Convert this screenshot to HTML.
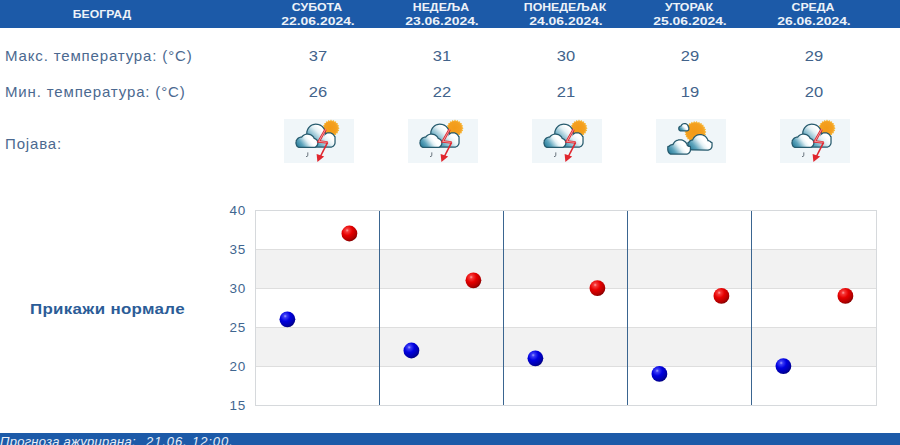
<!DOCTYPE html>
<html><head><meta charset="utf-8">
<style>
html,body{margin:0;padding:0;background:#fff;width:900px;height:445px;overflow:hidden;position:relative;font-family:"Liberation Sans",sans-serif;}
div{position:absolute;white-space:nowrap;}
.hdr{left:0;top:0;width:900px;height:28px;background:#1c5aa8;}
.ht{color:#edf2f8;font-weight:bold;font-size:11.5px;text-align:center;width:124px;line-height:13px;transform-origin:50% 0;}
.lbl{left:5px;color:#4b6990;font-size:15px;line-height:16px;letter-spacing:0.85px;}
.num{width:124px;text-align:center;color:#42638b;font-size:15px;line-height:16px;transform:scaleX(1.1);transform-origin:50% 0;}
.ico{width:70px;height:44px;}
.yl{left:220px;width:26px;text-align:right;color:#3f6690;font-size:13.5px;line-height:14px;letter-spacing:0.8px;}
.ftr{left:0;top:433px;width:900px;height:12px;background:#1c5aa8;}
</style></head><body>
<div class="hdr"></div>
<div class="ht" style="left:40px;top:8px;transform:scaleX(1.06);">БЕОГРАД</div>

<div class="ht" style="left:255px;top:1px;transform:scaleX(1.07);">СУБОТА</div>
<div class="ht" style="left:255.5px;top:15px;transform:scaleX(1.21);">22.06.2024.</div>
<div class="ht" style="left:379px;top:1px;transform:scaleX(1.07);">НЕДЕЉА</div>
<div class="ht" style="left:379.5px;top:15px;transform:scaleX(1.21);">23.06.2024.</div>
<div class="ht" style="left:503px;top:1px;transform:scaleX(1.07);">ПОНЕДЕЉАК</div>
<div class="ht" style="left:503.5px;top:15px;transform:scaleX(1.21);">24.06.2024.</div>
<div class="ht" style="left:627px;top:1px;transform:scaleX(1.07);">УТОРАК</div>
<div class="ht" style="left:627.5px;top:15px;transform:scaleX(1.21);">25.06.2024.</div>
<div class="ht" style="left:751px;top:1px;transform:scaleX(1.07);">СРЕДА</div>
<div class="ht" style="left:751.5px;top:15px;transform:scaleX(1.21);">26.06.2024.</div>
<div class="lbl" style="top:48px;">Макс. температура: (°C)</div>
<div class="lbl" style="top:84px;">Мин. температура: (°C)</div>
<div class="lbl" style="top:136px;">Појава:</div>

<div class="num" style="left:256px;top:48px;">37</div>
<div class="num" style="left:256px;top:84px;">26</div>
<div class="num" style="left:380px;top:48px;">31</div>
<div class="num" style="left:380px;top:84px;">22</div>
<div class="num" style="left:504px;top:48px;">30</div>
<div class="num" style="left:504px;top:84px;">21</div>
<div class="num" style="left:628px;top:48px;">29</div>
<div class="num" style="left:628px;top:84px;">19</div>
<div class="num" style="left:752px;top:48px;">29</div>
<div class="num" style="left:752px;top:84px;">20</div>
<svg class="ico" style="position:absolute;left:284px;top:119px;" width="70" height="44" viewBox="0 0 70 44"><defs>
<linearGradient id="cg" x1="0" y1="1" x2="0.7" y2="0.1">
<stop offset="0" stop-color="#2e86a3"/><stop offset="0.45" stop-color="#9cc9d8"/><stop offset="0.75" stop-color="#ffffff"/><stop offset="1" stop-color="#ffffff"/></linearGradient>
<radialGradient id="sg" cx="0.45" cy="0.5" r="0.6"><stop offset="0" stop-color="#f39a16"/><stop offset="0.7" stop-color="#f4a020"/><stop offset="1" stop-color="#f7b43a"/></radialGradient>
</defs><rect width="70" height="44" fill="#f0f6f9"/><polygon points="55.60,9.20 54.21,10.34 55.18,11.86 53.50,12.51 53.96,14.25 52.16,14.36 52.05,16.16 50.31,15.70 49.66,17.38 48.14,16.41 47.00,17.80 45.86,16.41 44.34,17.38 43.69,15.70 41.95,16.16 41.84,14.36 40.04,14.25 40.50,12.51 38.82,11.86 39.79,10.34 38.40,9.20 39.79,8.06 38.82,6.54 40.50,5.89 40.04,4.15 41.84,4.04 41.95,2.24 43.69,2.70 44.34,1.02 45.86,1.99 47.00,0.60 48.14,1.99 49.66,1.02 50.31,2.70 52.05,2.24 52.16,4.04 53.96,4.15 53.50,5.89 55.18,6.54 54.21,8.06" fill="#f7b638"/><circle cx="47" cy="9.2" r="7.3" fill="url(#sg)"/><linearGradient id="c1g" gradientUnits="userSpaceOnUse" x1="23.41" y1="27.50" x2="43.65" y2="5.80"><stop offset="0" stop-color="#1f7593"/><stop offset="0.3" stop-color="#5fa5bd"/><stop offset="0.6" stop-color="#e4f1f5"/><stop offset="0.75" stop-color="#ffffff"/><stop offset="1" stop-color="#ffffff"/></linearGradient><path d="M40.6,13.8 40.4,12.5 40.1,11.5 39.6,10.3 38.9,9.3 38.1,8.3 37.3,7.6 36.4,7.0 35.3,6.5 34.1,6.1 33.1,5.9 31.8,5.8 30.5,5.9 29.3,6.2 28.3,6.6 27.2,7.2 26.2,8.0 25.5,8.8 25.0,9.4 24.5,10.2 24.1,11.1 23.7,12.1 23.5,12.9 23.4,14.0 23.4,14.8 23.5,15.7 23.7,16.5 24.1,17.9 24.5,18.6 25.0,19.4 26.0,20.6 26.0,23.5 26.1,24.3 26.2,24.8 26.5,25.4 27.0,26.2 27.6,26.7 28.3,27.1 29.0,27.4 30.0,27.5 46.6,27.5 47.4,27.4 47.9,27.2 48.5,26.9 49.1,26.5 49.5,26.0 49.9,25.4 50.2,24.7 50.4,24.1 50.4,18.0 50.1,18.0 49.8,17.3 49.3,16.5 48.6,15.8 48.0,15.3 47.3,14.9 46.6,14.6 45.8,14.5 45.0,14.4 44.2,14.5 43.4,14.6 42.7,14.9 41.9,15.4 41.3,15.9 40.7,16.5 40.2,17.3 39.9,18.0 39.8,18.0 40.2,16.9 40.5,15.9 40.6,14.8 40.6,13.8Z" fill="url(#c1g)" stroke="#265a6d" stroke-width="2.5" stroke-linejoin="round" paint-order="stroke"/><linearGradient id="c2g" gradientUnits="userSpaceOnUse" x1="12.60" y1="27.80" x2="28.04" y2="15.70"><stop offset="0" stop-color="#1f7593"/><stop offset="0.3" stop-color="#5fa5bd"/><stop offset="0.6" stop-color="#e4f1f5"/><stop offset="0.75" stop-color="#ffffff"/><stop offset="1" stop-color="#ffffff"/></linearGradient><path d="M29.8,20.0 29.2,18.8 28.4,17.7 27.4,16.9 26.3,16.3 25.0,15.9 23.8,15.7 22.5,15.8 21.4,16.1 20.3,16.6 19.4,17.2 18.6,18.0 18.0,18.8 16.8,18.8 15.7,19.1 14.6,19.7 13.8,20.5 13.2,21.2 12.9,22.0 12.8,22.0 12.7,22.9 12.6,23.6 12.6,24.2 13.0,25.8 13.3,26.5 13.8,27.0 14.3,27.4 15.1,27.8 30.5,27.8 31.2,27.5 31.7,27.1 32.2,26.6 32.6,26.1 32.9,25.5 33.1,25.0 33.2,24.3 33.2,23.6 33.1,22.9 32.8,22.3 32.8,22.0 32.7,22.0 32.2,21.3 31.5,20.7 30.7,20.3 29.8,20.0Z" fill="url(#c2g)" stroke="#265a6d" stroke-width="2.5" stroke-linejoin="round" paint-order="stroke"/><polyline points="41.6,10.4 34.8,22.4 43.6,23.4" fill="none" stroke="#e0262e" stroke-width="2.5" stroke-linejoin="miter"/><polyline points="41.6,10.4 34.8,22.4 43.6,23.4" fill="none" stroke="#f3b9bd" stroke-width="0.8" stroke-linejoin="miter"/><polyline points="43.6,23.4 36.4,37.5" fill="none" stroke="#e0262e" stroke-width="1.6"/><polygon points="32.6,35 40.2,37.4 33.4,43" fill="#e0262e"/><path d="M23.8,33.4 v2.8 q0,1.6 -1.8,1.4" fill="none" stroke="#5a6670" stroke-width="0.9"/></svg>
<svg class="ico" style="position:absolute;left:408px;top:119px;" width="70" height="44" viewBox="0 0 70 44"><rect width="70" height="44" fill="#f0f6f9"/><polygon points="55.60,9.20 54.21,10.34 55.18,11.86 53.50,12.51 53.96,14.25 52.16,14.36 52.05,16.16 50.31,15.70 49.66,17.38 48.14,16.41 47.00,17.80 45.86,16.41 44.34,17.38 43.69,15.70 41.95,16.16 41.84,14.36 40.04,14.25 40.50,12.51 38.82,11.86 39.79,10.34 38.40,9.20 39.79,8.06 38.82,6.54 40.50,5.89 40.04,4.15 41.84,4.04 41.95,2.24 43.69,2.70 44.34,1.02 45.86,1.99 47.00,0.60 48.14,1.99 49.66,1.02 50.31,2.70 52.05,2.24 52.16,4.04 53.96,4.15 53.50,5.89 55.18,6.54 54.21,8.06" fill="#f7b638"/><circle cx="47" cy="9.2" r="7.3" fill="url(#sg)"/><linearGradient id="c1g" gradientUnits="userSpaceOnUse" x1="23.41" y1="27.50" x2="43.65" y2="5.80"><stop offset="0" stop-color="#1f7593"/><stop offset="0.3" stop-color="#5fa5bd"/><stop offset="0.6" stop-color="#e4f1f5"/><stop offset="0.75" stop-color="#ffffff"/><stop offset="1" stop-color="#ffffff"/></linearGradient><path d="M40.6,13.8 40.4,12.5 40.1,11.5 39.6,10.3 38.9,9.3 38.1,8.3 37.3,7.6 36.4,7.0 35.3,6.5 34.1,6.1 33.1,5.9 31.8,5.8 30.5,5.9 29.3,6.2 28.3,6.6 27.2,7.2 26.2,8.0 25.5,8.8 25.0,9.4 24.5,10.2 24.1,11.1 23.7,12.1 23.5,12.9 23.4,14.0 23.4,14.8 23.5,15.7 23.7,16.5 24.1,17.9 24.5,18.6 25.0,19.4 26.0,20.6 26.0,23.5 26.1,24.3 26.2,24.8 26.5,25.4 27.0,26.2 27.6,26.7 28.3,27.1 29.0,27.4 30.0,27.5 46.6,27.5 47.4,27.4 47.9,27.2 48.5,26.9 49.1,26.5 49.5,26.0 49.9,25.4 50.2,24.7 50.4,24.1 50.4,18.0 50.1,18.0 49.8,17.3 49.3,16.5 48.6,15.8 48.0,15.3 47.3,14.9 46.6,14.6 45.8,14.5 45.0,14.4 44.2,14.5 43.4,14.6 42.7,14.9 41.9,15.4 41.3,15.9 40.7,16.5 40.2,17.3 39.9,18.0 39.8,18.0 40.2,16.9 40.5,15.9 40.6,14.8 40.6,13.8Z" fill="url(#c1g)" stroke="#265a6d" stroke-width="2.5" stroke-linejoin="round" paint-order="stroke"/><linearGradient id="c2g" gradientUnits="userSpaceOnUse" x1="12.60" y1="27.80" x2="28.04" y2="15.70"><stop offset="0" stop-color="#1f7593"/><stop offset="0.3" stop-color="#5fa5bd"/><stop offset="0.6" stop-color="#e4f1f5"/><stop offset="0.75" stop-color="#ffffff"/><stop offset="1" stop-color="#ffffff"/></linearGradient><path d="M29.8,20.0 29.2,18.8 28.4,17.7 27.4,16.9 26.3,16.3 25.0,15.9 23.8,15.7 22.5,15.8 21.4,16.1 20.3,16.6 19.4,17.2 18.6,18.0 18.0,18.8 16.8,18.8 15.7,19.1 14.6,19.7 13.8,20.5 13.2,21.2 12.9,22.0 12.8,22.0 12.7,22.9 12.6,23.6 12.6,24.2 13.0,25.8 13.3,26.5 13.8,27.0 14.3,27.4 15.1,27.8 30.5,27.8 31.2,27.5 31.7,27.1 32.2,26.6 32.6,26.1 32.9,25.5 33.1,25.0 33.2,24.3 33.2,23.6 33.1,22.9 32.8,22.3 32.8,22.0 32.7,22.0 32.2,21.3 31.5,20.7 30.7,20.3 29.8,20.0Z" fill="url(#c2g)" stroke="#265a6d" stroke-width="2.5" stroke-linejoin="round" paint-order="stroke"/><polyline points="41.6,10.4 34.8,22.4 43.6,23.4" fill="none" stroke="#e0262e" stroke-width="2.5" stroke-linejoin="miter"/><polyline points="41.6,10.4 34.8,22.4 43.6,23.4" fill="none" stroke="#f3b9bd" stroke-width="0.8" stroke-linejoin="miter"/><polyline points="43.6,23.4 36.4,37.5" fill="none" stroke="#e0262e" stroke-width="1.6"/><polygon points="32.6,35 40.2,37.4 33.4,43" fill="#e0262e"/><path d="M23.8,33.4 v2.8 q0,1.6 -1.8,1.4" fill="none" stroke="#5a6670" stroke-width="0.9"/></svg>
<svg class="ico" style="position:absolute;left:532px;top:119px;" width="70" height="44" viewBox="0 0 70 44"><rect width="70" height="44" fill="#f0f6f9"/><polygon points="55.60,9.20 54.21,10.34 55.18,11.86 53.50,12.51 53.96,14.25 52.16,14.36 52.05,16.16 50.31,15.70 49.66,17.38 48.14,16.41 47.00,17.80 45.86,16.41 44.34,17.38 43.69,15.70 41.95,16.16 41.84,14.36 40.04,14.25 40.50,12.51 38.82,11.86 39.79,10.34 38.40,9.20 39.79,8.06 38.82,6.54 40.50,5.89 40.04,4.15 41.84,4.04 41.95,2.24 43.69,2.70 44.34,1.02 45.86,1.99 47.00,0.60 48.14,1.99 49.66,1.02 50.31,2.70 52.05,2.24 52.16,4.04 53.96,4.15 53.50,5.89 55.18,6.54 54.21,8.06" fill="#f7b638"/><circle cx="47" cy="9.2" r="7.3" fill="url(#sg)"/><linearGradient id="c1g" gradientUnits="userSpaceOnUse" x1="23.41" y1="27.50" x2="43.65" y2="5.80"><stop offset="0" stop-color="#1f7593"/><stop offset="0.3" stop-color="#5fa5bd"/><stop offset="0.6" stop-color="#e4f1f5"/><stop offset="0.75" stop-color="#ffffff"/><stop offset="1" stop-color="#ffffff"/></linearGradient><path d="M40.6,13.8 40.4,12.5 40.1,11.5 39.6,10.3 38.9,9.3 38.1,8.3 37.3,7.6 36.4,7.0 35.3,6.5 34.1,6.1 33.1,5.9 31.8,5.8 30.5,5.9 29.3,6.2 28.3,6.6 27.2,7.2 26.2,8.0 25.5,8.8 25.0,9.4 24.5,10.2 24.1,11.1 23.7,12.1 23.5,12.9 23.4,14.0 23.4,14.8 23.5,15.7 23.7,16.5 24.1,17.9 24.5,18.6 25.0,19.4 26.0,20.6 26.0,23.5 26.1,24.3 26.2,24.8 26.5,25.4 27.0,26.2 27.6,26.7 28.3,27.1 29.0,27.4 30.0,27.5 46.6,27.5 47.4,27.4 47.9,27.2 48.5,26.9 49.1,26.5 49.5,26.0 49.9,25.4 50.2,24.7 50.4,24.1 50.4,18.0 50.1,18.0 49.8,17.3 49.3,16.5 48.6,15.8 48.0,15.3 47.3,14.9 46.6,14.6 45.8,14.5 45.0,14.4 44.2,14.5 43.4,14.6 42.7,14.9 41.9,15.4 41.3,15.9 40.7,16.5 40.2,17.3 39.9,18.0 39.8,18.0 40.2,16.9 40.5,15.9 40.6,14.8 40.6,13.8Z" fill="url(#c1g)" stroke="#265a6d" stroke-width="2.5" stroke-linejoin="round" paint-order="stroke"/><linearGradient id="c2g" gradientUnits="userSpaceOnUse" x1="12.60" y1="27.80" x2="28.04" y2="15.70"><stop offset="0" stop-color="#1f7593"/><stop offset="0.3" stop-color="#5fa5bd"/><stop offset="0.6" stop-color="#e4f1f5"/><stop offset="0.75" stop-color="#ffffff"/><stop offset="1" stop-color="#ffffff"/></linearGradient><path d="M29.8,20.0 29.2,18.8 28.4,17.7 27.4,16.9 26.3,16.3 25.0,15.9 23.8,15.7 22.5,15.8 21.4,16.1 20.3,16.6 19.4,17.2 18.6,18.0 18.0,18.8 16.8,18.8 15.7,19.1 14.6,19.7 13.8,20.5 13.2,21.2 12.9,22.0 12.8,22.0 12.7,22.9 12.6,23.6 12.6,24.2 13.0,25.8 13.3,26.5 13.8,27.0 14.3,27.4 15.1,27.8 30.5,27.8 31.2,27.5 31.7,27.1 32.2,26.6 32.6,26.1 32.9,25.5 33.1,25.0 33.2,24.3 33.2,23.6 33.1,22.9 32.8,22.3 32.8,22.0 32.7,22.0 32.2,21.3 31.5,20.7 30.7,20.3 29.8,20.0Z" fill="url(#c2g)" stroke="#265a6d" stroke-width="2.5" stroke-linejoin="round" paint-order="stroke"/><polyline points="41.6,10.4 34.8,22.4 43.6,23.4" fill="none" stroke="#e0262e" stroke-width="2.5" stroke-linejoin="miter"/><polyline points="41.6,10.4 34.8,22.4 43.6,23.4" fill="none" stroke="#f3b9bd" stroke-width="0.8" stroke-linejoin="miter"/><polyline points="43.6,23.4 36.4,37.5" fill="none" stroke="#e0262e" stroke-width="1.6"/><polygon points="32.6,35 40.2,37.4 33.4,43" fill="#e0262e"/><path d="M23.8,33.4 v2.8 q0,1.6 -1.8,1.4" fill="none" stroke="#5a6670" stroke-width="0.9"/></svg>
<svg class="ico" style="position:absolute;left:656px;top:119px;" width="70" height="44" viewBox="0 0 70 44"><rect width="70" height="44" fill="#f0f6f9"/><polygon points="50.40,13.00 48.93,14.16 50.08,15.63 48.38,16.40 49.14,18.11 47.30,18.45 47.63,20.29 45.77,20.19 45.65,22.05 43.86,21.50 43.30,23.29 41.70,22.32 40.73,23.92 39.40,22.60 38.07,23.92 37.10,22.32 35.50,23.29 34.94,21.50 33.15,22.05 33.03,20.19 31.17,20.29 31.50,18.45 29.66,18.11 30.42,16.40 28.72,15.63 29.87,14.16 28.40,13.00 29.87,11.84 28.72,10.37 30.42,9.60 29.66,7.89 31.50,7.55 31.17,5.71 33.03,5.81 33.15,3.95 34.94,4.50 35.50,2.71 37.10,3.68 38.07,2.08 39.40,3.40 40.73,2.08 41.70,3.68 43.30,2.71 43.86,4.50 45.65,3.95 45.77,5.81 47.63,5.71 47.30,7.55 49.14,7.89 48.38,9.60 50.08,10.37 48.93,11.84" fill="#f7b638"/><circle cx="39.4" cy="13.0" r="9.6" fill="url(#sg)"/><linearGradient id="c3g" gradientUnits="userSpaceOnUse" x1="23.41" y1="11.20" x2="30.00" y2="5.20"><stop offset="0" stop-color="#1f7593"/><stop offset="0.3" stop-color="#5fa5bd"/><stop offset="0.6" stop-color="#e4f1f5"/><stop offset="0.75" stop-color="#ffffff"/><stop offset="1" stop-color="#ffffff"/></linearGradient><path d="M31.8,8.5 31.7,7.5 31.4,6.9 31.0,6.3 30.5,5.8 30.0,5.5 29.3,5.3 28.6,5.2 27.9,5.3 27.1,5.6 26.4,6.1 25.9,6.8 25.5,7.6 25.0,7.6 24.5,7.8 24.1,8.1 23.7,8.5 23.6,8.5 23.6,8.7 23.4,9.4 23.4,10.0 23.7,10.7 24.2,11.2 31.2,11.2 31.6,11.0 31.9,10.8 32.1,10.5 32.2,10.2 32.2,8.5 31.8,8.5Z" fill="url(#c3g)" stroke="#265a6d" stroke-width="2.5" stroke-linejoin="round" paint-order="stroke"/><linearGradient id="c4g" gradientUnits="userSpaceOnUse" x1="32.55" y1="30.35" x2="49.72" y2="16.20"><stop offset="0" stop-color="#1f7593"/><stop offset="0.3" stop-color="#5fa5bd"/><stop offset="0.6" stop-color="#e4f1f5"/><stop offset="0.75" stop-color="#ffffff"/><stop offset="1" stop-color="#ffffff"/></linearGradient><path d="M51.5,22.2 51.0,20.6 50.5,19.8 50.1,19.2 49.2,18.1 48.5,17.5 47.8,17.2 46.5,16.6 45.1,16.3 44.4,16.2 43.5,16.2 42.1,16.5 41.2,16.8 40.4,17.3 39.6,17.8 39.0,18.4 38.4,19.0 37.9,19.8 37.4,20.6 37.1,21.6 35.9,21.7 34.9,22.1 34.4,22.5 33.9,22.9 33.5,23.4 33.1,24.0 32.5,24.0 32.6,26.9 32.7,27.8 33.2,28.8 33.9,29.5 34.8,30.1 35.8,30.3 51.8,30.4 52.9,30.2 53.5,29.9 54.3,29.4 54.8,28.8 55.2,28.1 55.3,27.6 55.4,26.9 55.4,24.0 54.7,24.0 54.2,23.3 53.5,22.8 52.5,22.3 51.5,22.2Z" fill="url(#c4g)" stroke="#265a6d" stroke-width="2.5" stroke-linejoin="round" paint-order="stroke"/><linearGradient id="c5g" gradientUnits="userSpaceOnUse" x1="12.40" y1="34.45" x2="28.45" y2="21.41"><stop offset="0" stop-color="#1f7593"/><stop offset="0.3" stop-color="#5fa5bd"/><stop offset="0.6" stop-color="#e4f1f5"/><stop offset="0.75" stop-color="#ffffff"/><stop offset="1" stop-color="#ffffff"/></linearGradient><path d="M30.9,27.1 30.4,25.6 30.0,24.8 29.6,24.2 28.7,23.2 27.6,22.4 26.4,21.8 25.0,21.5 23.7,21.4 22.8,21.5 22.1,21.7 21.3,21.9 20.5,22.3 19.8,22.8 19.2,23.3 18.6,24.0 18.1,24.7 17.7,25.4 17.3,26.2 16.4,26.2 15.3,26.5 14.7,26.7 14.2,27.1 13.7,27.5 13.3,28.0 12.4,28.0 12.4,30.7 12.6,31.8 12.9,32.6 13.3,33.3 13.9,33.9 14.7,34.5 31.1,34.5 31.9,34.1 32.6,33.6 33.1,33.0 33.5,32.3 33.7,31.6 33.8,31.0 33.8,28.0 32.6,28.0 31.8,27.4 30.9,27.1Z" fill="url(#c5g)" stroke="#265a6d" stroke-width="2.5" stroke-linejoin="round" paint-order="stroke"/></svg>
<svg class="ico" style="position:absolute;left:780px;top:119px;" width="70" height="44" viewBox="0 0 70 44"><rect width="70" height="44" fill="#f0f6f9"/><polygon points="55.60,9.20 54.21,10.34 55.18,11.86 53.50,12.51 53.96,14.25 52.16,14.36 52.05,16.16 50.31,15.70 49.66,17.38 48.14,16.41 47.00,17.80 45.86,16.41 44.34,17.38 43.69,15.70 41.95,16.16 41.84,14.36 40.04,14.25 40.50,12.51 38.82,11.86 39.79,10.34 38.40,9.20 39.79,8.06 38.82,6.54 40.50,5.89 40.04,4.15 41.84,4.04 41.95,2.24 43.69,2.70 44.34,1.02 45.86,1.99 47.00,0.60 48.14,1.99 49.66,1.02 50.31,2.70 52.05,2.24 52.16,4.04 53.96,4.15 53.50,5.89 55.18,6.54 54.21,8.06" fill="#f7b638"/><circle cx="47" cy="9.2" r="7.3" fill="url(#sg)"/><linearGradient id="c1g" gradientUnits="userSpaceOnUse" x1="23.41" y1="27.50" x2="43.65" y2="5.80"><stop offset="0" stop-color="#1f7593"/><stop offset="0.3" stop-color="#5fa5bd"/><stop offset="0.6" stop-color="#e4f1f5"/><stop offset="0.75" stop-color="#ffffff"/><stop offset="1" stop-color="#ffffff"/></linearGradient><path d="M40.6,13.8 40.4,12.5 40.1,11.5 39.6,10.3 38.9,9.3 38.1,8.3 37.3,7.6 36.4,7.0 35.3,6.5 34.1,6.1 33.1,5.9 31.8,5.8 30.5,5.9 29.3,6.2 28.3,6.6 27.2,7.2 26.2,8.0 25.5,8.8 25.0,9.4 24.5,10.2 24.1,11.1 23.7,12.1 23.5,12.9 23.4,14.0 23.4,14.8 23.5,15.7 23.7,16.5 24.1,17.9 24.5,18.6 25.0,19.4 26.0,20.6 26.0,23.5 26.1,24.3 26.2,24.8 26.5,25.4 27.0,26.2 27.6,26.7 28.3,27.1 29.0,27.4 30.0,27.5 46.6,27.5 47.4,27.4 47.9,27.2 48.5,26.9 49.1,26.5 49.5,26.0 49.9,25.4 50.2,24.7 50.4,24.1 50.4,18.0 50.1,18.0 49.8,17.3 49.3,16.5 48.6,15.8 48.0,15.3 47.3,14.9 46.6,14.6 45.8,14.5 45.0,14.4 44.2,14.5 43.4,14.6 42.7,14.9 41.9,15.4 41.3,15.9 40.7,16.5 40.2,17.3 39.9,18.0 39.8,18.0 40.2,16.9 40.5,15.9 40.6,14.8 40.6,13.8Z" fill="url(#c1g)" stroke="#265a6d" stroke-width="2.5" stroke-linejoin="round" paint-order="stroke"/><linearGradient id="c2g" gradientUnits="userSpaceOnUse" x1="12.60" y1="27.80" x2="28.04" y2="15.70"><stop offset="0" stop-color="#1f7593"/><stop offset="0.3" stop-color="#5fa5bd"/><stop offset="0.6" stop-color="#e4f1f5"/><stop offset="0.75" stop-color="#ffffff"/><stop offset="1" stop-color="#ffffff"/></linearGradient><path d="M29.8,20.0 29.2,18.8 28.4,17.7 27.4,16.9 26.3,16.3 25.0,15.9 23.8,15.7 22.5,15.8 21.4,16.1 20.3,16.6 19.4,17.2 18.6,18.0 18.0,18.8 16.8,18.8 15.7,19.1 14.6,19.7 13.8,20.5 13.2,21.2 12.9,22.0 12.8,22.0 12.7,22.9 12.6,23.6 12.6,24.2 13.0,25.8 13.3,26.5 13.8,27.0 14.3,27.4 15.1,27.8 30.5,27.8 31.2,27.5 31.7,27.1 32.2,26.6 32.6,26.1 32.9,25.5 33.1,25.0 33.2,24.3 33.2,23.6 33.1,22.9 32.8,22.3 32.8,22.0 32.7,22.0 32.2,21.3 31.5,20.7 30.7,20.3 29.8,20.0Z" fill="url(#c2g)" stroke="#265a6d" stroke-width="2.5" stroke-linejoin="round" paint-order="stroke"/><polyline points="41.6,10.4 34.8,22.4 43.6,23.4" fill="none" stroke="#e0262e" stroke-width="2.5" stroke-linejoin="miter"/><polyline points="41.6,10.4 34.8,22.4 43.6,23.4" fill="none" stroke="#f3b9bd" stroke-width="0.8" stroke-linejoin="miter"/><polyline points="43.6,23.4 36.4,37.5" fill="none" stroke="#e0262e" stroke-width="1.6"/><polygon points="32.6,35 40.2,37.4 33.4,43" fill="#e0262e"/><path d="M23.8,33.4 v2.8 q0,1.6 -1.8,1.4" fill="none" stroke="#5a6670" stroke-width="0.9"/></svg>
<div style="left:30px;top:301px;color:#2b5c97;font-weight:bold;font-size:15.5px;line-height:16px;letter-spacing:0.3px;transform:scaleX(1.09);transform-origin:0 0;">Прикажи нормале</div>
<svg style="position:absolute;left:0;top:0" width="900" height="445" viewBox="0 0 900 445"><rect x="255.5" y="210.5" width="621" height="195" fill="#fff" stroke="#d6d9dc" stroke-width="1"/><rect x="256" y="250" width="620" height="38" fill="#f2f2f2"/><rect x="256" y="328" width="620" height="38" fill="#f2f2f2"/><line x1="256" y1="249.5" x2="876" y2="249.5" stroke="#dedede" stroke-width="1"/><line x1="256" y1="288.5" x2="876" y2="288.5" stroke="#dedede" stroke-width="1"/><line x1="256" y1="327.5" x2="876" y2="327.5" stroke="#dedede" stroke-width="1"/><line x1="256" y1="366.5" x2="876" y2="366.5" stroke="#dedede" stroke-width="1"/><line x1="379.5" y1="211" x2="379.5" y2="405" stroke="#3a6590" stroke-width="1"/><line x1="503.5" y1="211" x2="503.5" y2="405" stroke="#3a6590" stroke-width="1"/><line x1="627.5" y1="211" x2="627.5" y2="405" stroke="#3a6590" stroke-width="1"/><line x1="751.5" y1="211" x2="751.5" y2="405" stroke="#3a6590" stroke-width="1"/><defs>
<radialGradient id="rb" cx="0.36" cy="0.3" r="0.78"><stop offset="0" stop-color="#ffa0a0"/><stop offset="0.14" stop-color="#f53838"/><stop offset="0.42" stop-color="#e60000"/><stop offset="0.78" stop-color="#b00000"/><stop offset="1" stop-color="#6e0000"/></radialGradient>
<radialGradient id="bb" cx="0.36" cy="0.3" r="0.78"><stop offset="0" stop-color="#a0a0ff"/><stop offset="0.14" stop-color="#3a3af5"/><stop offset="0.42" stop-color="#0000e0"/><stop offset="0.78" stop-color="#0000a8"/><stop offset="1" stop-color="#00006a"/></radialGradient>
</defs><circle cx="287.4" cy="319.30" r="7.9" fill="url(#bb)"/><circle cx="349.4" cy="233.50" r="7.9" fill="url(#rb)"/><circle cx="411.4" cy="350.50" r="7.9" fill="url(#bb)"/><circle cx="473.4" cy="280.30" r="7.9" fill="url(#rb)"/><circle cx="535.4" cy="358.30" r="7.9" fill="url(#bb)"/><circle cx="597.4" cy="288.10" r="7.9" fill="url(#rb)"/><circle cx="659.4" cy="373.90" r="7.9" fill="url(#bb)"/><circle cx="721.4" cy="295.90" r="7.9" fill="url(#rb)"/><circle cx="783.4" cy="366.10" r="7.9" fill="url(#bb)"/><circle cx="845.4" cy="295.90" r="7.9" fill="url(#rb)"/></svg>
<div class="yl" style="top:204px;">40</div>
<div class="yl" style="top:243px;">35</div>
<div class="yl" style="top:282px;">30</div>
<div class="yl" style="top:321px;">25</div>
<div class="yl" style="top:360px;">20</div>
<div class="yl" style="top:399px;">15</div>
<div class="ftr"></div>
<div style="left:0;top:435px;color:#e8eef6;font-style:italic;font-size:13px;line-height:14px;letter-spacing:0.25px;">Прогноза ажурирана:</div>
<div style="left:146px;top:435px;color:#e8eef6;font-style:italic;font-size:13px;line-height:14px;letter-spacing:0.9px;">21.06. 12:00.</div>
</body></html>
